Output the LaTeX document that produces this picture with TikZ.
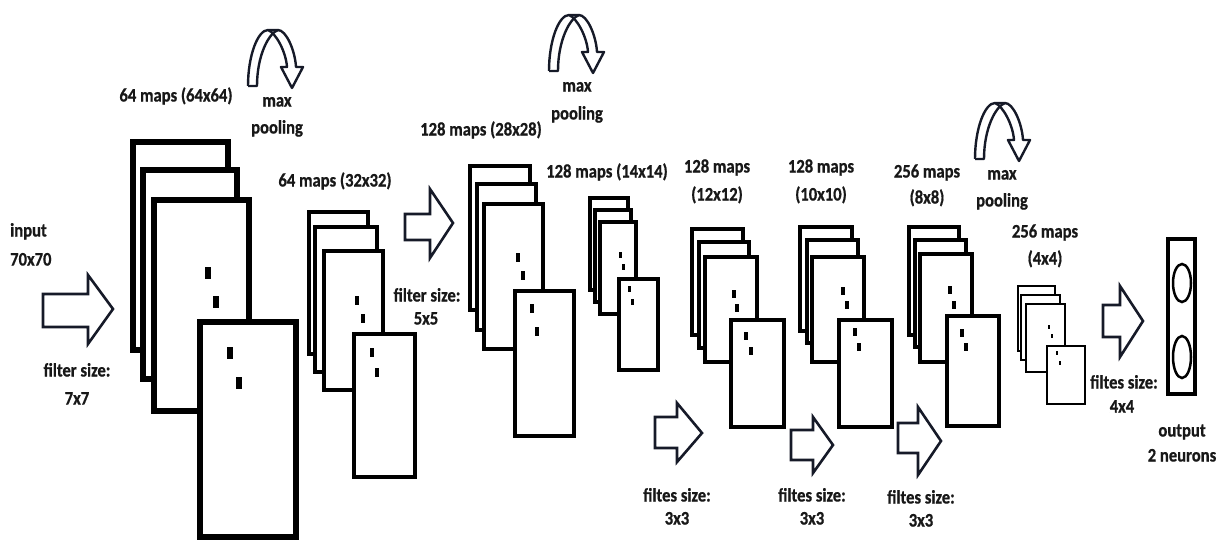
\documentclass[tikz,border=0pt]{standalone}
\usepackage{fontspec}
\setmainfont{Carlito}[BoldFeatures={FakeBold=0.8}]
\definecolor{txt}{RGB}{24,24,24}
\definecolor{arr}{RGB}{22,26,40}
\newcommand\mdot[4]{\fill[black] ({#1-#3/2},{#2-#4/2}) rectangle ({#1+#3/2},{#2+#4/2});}
\newcommand\barrow[8]{\draw[barr] (#1,#2) -- (#3,#2) -- (#3,#4) -- (#6,#7) -- (#3,#5) -- (#3,#8) -- (#1,#8) -- cycle;}
\newcommand\tl[1]{\scalebox{1}[1.15]{#1}}
\begin{document}
\begin{tikzpicture}[x=1pt,y=-1pt,
  lbl/.style={font=\fontsize{16.6}{19}\selectfont\bfseries, text=txt, inner sep=0pt, text height=13pt, text depth=4pt},
  mapbox/.style={draw=black, fill=white, line join=miter},
  barr/.style={draw=arr, fill=white, line width=2.6pt, line join=miter},
  poolline/.style={draw=arr, line width=2.4pt, line join=round},
  pool/.pic={
    \draw[poolline] (-25,56) .. controls (-25,25) and (-15,0) .. (-5,0) -- (5,0)
      .. controls (13,0) and (22,20) .. (23,37) -- (30,37) -- (19,58) -- (8,37) -- (14,37)
      .. controls (13,22) and (3,3) .. (-5,0);
    \draw[poolline] (5,0) .. controls (-4,3) and (-16,25) .. (-16,56) -- (-25,56);
  }]
\useasboundingbox (0,0) rectangle (1227,541);

% ---- stack A (64x64)
\begin{scope}[line width=5.5pt]
\draw[mapbox] (133,142) rectangle (228,350);
\draw[mapbox] (143,170) rectangle (237,379);
\draw[mapbox] (154,200) rectangle (249,411);
\mdot{208}{273}{6}{12}\mdot{216}{302}{6}{12}
\draw[mapbox] (200,322) rectangle (296,537);
\mdot{230}{353}{6}{12}\mdot{239}{383}{6}{12}
\end{scope}

% ---- stack B (32x32)
\begin{scope}[line width=4.5pt]
\draw[mapbox] (309,212) rectangle (368,354);
\draw[mapbox] (315,227) rectangle (377,372);
\draw[mapbox] (324,251) rectangle (383,390);
\mdot{357}{300}{4}{9}\mdot{363}{318}{4}{9}
\draw[mapbox] (354,334) rectangle (415,477);
\mdot{372}{352}{4}{9}\mdot{377}{372}{4}{9}
\end{scope}

% ---- stack C (28x28)
\begin{scope}[line width=4.5pt]
\draw[mapbox] (470,166) rectangle (530,310);
\draw[mapbox] (477,184) rectangle (536,330);
\draw[mapbox] (484,204) rectangle (543,349);
\mdot{518}{257}{4}{9}\mdot{523}{275}{4}{9}
\draw[mapbox] (515,291) rectangle (574,436);
\mdot{532}{308}{4}{9}\mdot{537}{331}{4}{9}
\end{scope}

% ---- stack D (14x14)
\begin{scope}[line width=3.5pt]
\draw[mapbox] (590,198) rectangle (628,290);
\draw[mapbox] (595,210) rectangle (631,302);
\draw[mapbox] (600,222) rectangle (636,314);
\mdot{620}{255}{3}{6}\mdot{623}{267}{3}{6}
\draw[mapbox] (619,279) rectangle (658,370);
\mdot{629}{289}{3}{6}\mdot{632}{302}{3}{6}
\end{scope}

% ---- stack E (12x12)
\begin{scope}[line width=3.8pt]
\draw[mapbox] (692,229) rectangle (743,335);
\draw[mapbox] (699,242) rectangle (749,348);
\draw[mapbox] (705,257) rectangle (757,362);
\mdot{734}{294}{4}{8}\mdot{737}{308}{4}{8}
\draw[mapbox] (731,320) rectangle (784,427);
\mdot{746}{336}{4}{8}\mdot{751}{351}{4}{8}
\end{scope}

% ---- stack F (10x10)
\begin{scope}[line width=3.6pt]
\draw[mapbox] (800,227) rectangle (852,331);
\draw[mapbox] (807,240) rectangle (858,343);
\draw[mapbox] (812,257) rectangle (864,362);
\mdot{843}{291}{4}{8}\mdot{847}{305}{4}{8}
\draw[mapbox] (839,320) rectangle (892,427);
\mdot{855}{332}{4}{8}\mdot{859}{347}{4}{8}
\end{scope}

% ---- stack G (8x8)
\begin{scope}[line width=3.8pt]
\draw[mapbox] (909,227) rectangle (959,335);
\draw[mapbox] (915,240) rectangle (966,347);
\draw[mapbox] (920,254) rectangle (972,362);
\mdot{950}{290}{4}{8}\mdot{954}{305}{4}{8}
\draw[mapbox] (947,316) rectangle (999,426);
\mdot{962}{333}{4}{8}\mdot{966}{347}{4}{8}
\end{scope}

% ---- stack H (4x4)
\begin{scope}[line width=2.8pt]
\draw[mapbox] (1018,286) rectangle (1055,351);
\draw[mapbox] (1021,295) rectangle (1060,360);
\draw[mapbox] (1026,304) rectangle (1065,372);
\mdot{1049}{327}{2}{4}\mdot{1052}{336}{2}{4}
\draw[mapbox] (1047,346) rectangle (1085,404);
\mdot{1057}{353}{2}{4}\mdot{1060}{363}{2}{4}
\end{scope}

% ---- output
\draw[line width=4pt] (1168,239) rectangle (1195,394);
\draw[line width=2.5pt] (1182,283) ellipse [x radius=9, y radius=19];
\draw[line width=2.5pt] (1182,357) ellipse [x radius=9, y radius=21];

% ---- block arrows
\barrow{43}{294}{88}{275}{344}{113}{309}{327}
\barrow{405}{214}{430}{189}{258}{453}{223}{240}
\barrow{655}{417}{677}{403}{462}{702}{433}{448}
\barrow{791}{430}{813}{417}{473}{833}{445}{460}
\barrow{898}{423}{918}{407}{475}{941}{441}{453}
\barrow{1103}{305}{1120}{286}{357}{1143}{321}{337}

% ---- max pooling arrows
\pic at (273,30) {pool};
\pic at (574,15) {pool};
\pic at (1000,103) {pool};

% ---- labels
\node[lbl, anchor=west] (inA) at (10,232) {\tl{input}};
\node[lbl, anchor=west] (inB) at (10,261) {\tl{70x70}};
\node[lbl] (f7a) at (77,372) {\tl{filter size:}};
\node[lbl] (f7b) at (77,400) {\tl{7x7}};
\node[lbl] (t64a) at (176,97) {\tl{64 maps (64x64)}};
\node[lbl] (mp1a) at (277,102) {\tl{max}};
\node[lbl] (mp1b) at (277,129) {\tl{pooling}};
\node[lbl] (t64b) at (335,182) {\tl{64 maps (32x32)}};
\node[lbl] (f5a) at (427,297) {\tl{filter size:}};
\node[lbl] (f5b) at (426,320) {\tl{5x5}};
\node[lbl] (t128a) at (481,131) {\tl{128 maps (28x28)}};
\node[lbl] (mp2a) at (577,87) {\tl{max}};
\node[lbl] (mp2b) at (577,115) {\tl{pooling}};
\node[lbl] (t128b) at (607,173) {\tl{128 maps (14x14)}};
\node[lbl] (t12a) at (717,168) {\tl{128 maps}};
\node[lbl] (t12b) at (717,196) {\tl{(12x12)}};
\node[lbl] (t10a) at (821,168) {\tl{128 maps}};
\node[lbl] (t10b) at (821,196) {\tl{(10x10)}};
\node[lbl] (t8a) at (927,173) {\tl{256 maps}};
\node[lbl] (t8b) at (927,199) {\tl{(8x8)}};
\node[lbl] (mp3a) at (1002,175) {\tl{max}};
\node[lbl] (mp3b) at (1002,202) {\tl{pooling}};
\node[lbl] (t4a) at (1045,233) {\tl{256 maps}};
\node[lbl] (t4b) at (1045,260) {\tl{(4x4)}};
\node[lbl] (f4a) at (1124,384) {\tl{filtes size:}};
\node[lbl] (f4b) at (1122,408) {\tl{4x4}};
\node[lbl] (outa) at (1182,432) {\tl{output}};
\node[lbl] (outb) at (1182,457) {\tl{2 neurons}};
\node[lbl] (f3a) at (677,497) {\tl{filtes size:}};
\node[lbl] (f3b) at (677,520) {\tl{3x3}};
\node[lbl] (f3c) at (812,497) {\tl{filtes size:}};
\node[lbl] (f3d) at (812,520) {\tl{3x3}};
\node[lbl] (f3e) at (921,499) {\tl{filtes size:}};
\node[lbl] (f3f) at (921,522) {\tl{3x3}};
\end{tikzpicture}
\end{document}
